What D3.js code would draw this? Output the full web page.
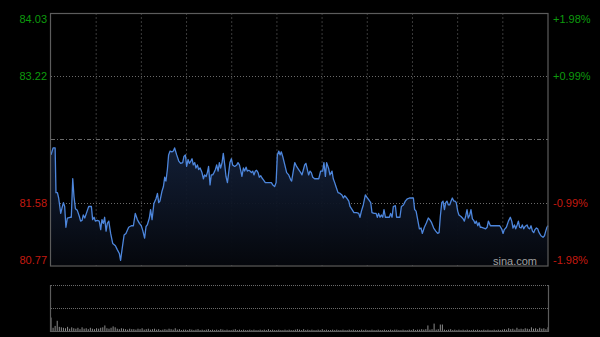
<!DOCTYPE html>
<html>
<head>
<meta charset="utf-8">
<script src="https://cdn.jsdelivr.net/npm/d3@7"></script>
<style>
  html, body { margin: 0; padding: 0; background: #000; }
  svg { display: block; }
</style>
</head>
<body>
<div id="chart"></div>
<script>
var width = 600,
    height = 337;

// minute offsets from the open and the traced price at each one
var minutes = [0, 1, 2, 2.4, 3.1, 3.7, 4.7, 5.3, 6, 6.6, 7.2, 7.9, 9.2, 9.8, 10.5, 11.1, 11.8, 12.7, 13.7, 14.3,
    15, 15.6, 16.3, 17.2, 18.2, 19.5, 20.1, 20.8, 21.4, 22.4, 23.3, 24, 24.6, 25.3, 25.9, 26.6, 27.2, 27.9, 28.8, 29.8,
    31.1, 32, 33, 33.6, 34.3, 35.3, 36.2, 37.5, 38.8, 39.8, 40.7, 41.7, 42.7, 43.6, 44.3, 45.2, 45.9, 46.5, 47.5, 48.1,
    48.8, 49.7, 50.7, 51.4, 52, 52.6, 53.6, 54.3, 54.9, 55.5, 56.2, 56.8, 57.5, 58.4, 59.1, 59.7, 60.7, 61.7, 62.6, 63.6,
    64.2, 64.9, 65.5, 66.2, 66.8, 67.5, 68.1, 68.7, 69.4, 70, 70.7, 71.3, 72, 72.9, 73.6, 74.2, 74.9, 75.5, 76.1, 76.8,
    77.4, 78.1, 78.7, 79.4, 80, 80.7, 81.3, 81.9, 82.6, 83.2, 83.9, 84.5, 85.2, 85.8, 86.4, 87.1, 87.7, 88.7, 89.7, 90.3,
    91, 91.6, 92.2, 92.9, 93.5, 94.2, 94.8, 95.5, 96.1, 96.8, 97.4, 98, 98.7, 99.3, 100, 100.6, 101.3, 101.9, 102.5, 103.5,
    105.1, 106.4, 107.1, 108, 108.7, 109.3, 110, 110.6, 111.2, 111.9, 112.9, 113.8, 114.8, 115.7, 116.2, 117, 117.7, 118.6, 119.6, 120.6,
    121.2, 121.9, 122.5, 123.1, 123.8, 124.4, 125.1, 125.7, 126.4, 127.3, 128.3, 129.3, 130.2, 131.2, 131.8, 132.5, 133.1, 134.1, 134.7, 135.7,
    136.3, 137, 137.6, 138.6, 139.6, 140.5, 141.2, 141.8, 142.5, 143.1, 143.8, 144.4, 145.4, 146.3, 147.6, 148.6, 149.2, 149.9, 150.8, 151.8,
    152.8, 153.4, 154.4, 155, 156, 157, 157.6, 158.2, 158.9, 159.5, 160.2, 160.8, 161.5, 162.7, 163.4, 164, 164.7, 165.3, 166.3, 166.9,
    167.9, 168.5, 169.2, 170.2, 171.1, 172.1, 173.1, 174, 175, 175.6, 176.3, 177.2, 177.9, 178.7, 179.3, 180.3, 181.3, 182.2, 182.9, 183.8,
    184.8, 185.8, 186.7, 187.4, 188, 188.7, 189.3, 190, 190.6, 191.2, 191.9, 192.5, 193.2, 193.8, 194.5, 195.1, 195.7, 196.4, 197, 198,
    199, 199.6, 200.3, 200.9, 201.5, 202.2, 202.8, 203.5, 204.1, 204.8, 205.4, 206.1, 206.7, 207.3, 208, 209, 209.9, 210.6, 211.2, 212.2,
    213.1, 214.4, 215.7, 216.7, 217.6, 218.3, 218.9, 219.9, 220.9, 221.8, 222.5, 223.1, 223.8, 224.4, 225.1, 225.7, 226.3, 227, 227.6, 228.3,
    228.9, 229.9, 230.5, 231.2, 231.8, 232.5, 233.1, 233.7, 234.4, 235, 235.7, 236.6, 237.6, 238.3, 238.9, 239.5, 240];

var prices = [82.20, 82.29, 82.29, 81.71, 81.71, 81.64, 81.44, 81.51, 81.58, 81.53, 81.26, 81.38, 81.39, 81.39, 81.89, 81.66, 81.50, 81.48, 81.40, 81.34,
    81.35, 81.42, 81.38, 81.45, 81.53, 81.53, 81.36, 81.39, 81.34, 81.35, 81.34, 81.23, 81.36, 81.31, 81.39, 81.21, 81.31, 81.34, 81.18, 81.05,
    81.02, 80.97, 80.92, 80.83, 80.97, 81.16, 81.18, 81.26, 81.28, 81.28, 81.44, 81.36, 81.31, 81.28, 81.22, 81.12, 81.27, 81.29, 81.38, 81.49,
    81.36, 81.57, 81.63, 81.70, 81.58, 81.60, 81.73, 81.79, 81.91, 81.86, 82.01, 82.20, 82.25, 82.24, 82.25, 82.29, 82.20, 82.12, 82.09, 82.10,
    82.18, 82.20, 82.05, 82.14, 82.09, 82.12, 82.15, 82.07, 82.10, 82.03, 82.07, 82.01, 82.03, 81.97, 81.89, 81.94, 81.92, 81.97, 82.05, 81.81,
    81.94, 81.94, 81.97, 82.01, 82.07, 81.99, 82.10, 82.03, 82.10, 82.22, 82.07, 81.92, 81.84, 81.97, 82.10, 82.15, 82.07, 82.05, 82.07, 82.10,
    82.07, 82.00, 81.92, 82.03, 81.99, 82.04, 81.99, 82.00, 81.99, 81.97, 81.99, 81.94, 81.99, 82.00, 81.97, 81.91, 81.93, 81.90, 81.88, 81.84,
    81.84, 81.84, 81.81, 81.79, 81.84, 82.20, 82.25, 82.20, 82.24, 82.18, 82.07, 81.97, 81.94, 81.88, 81.86, 81.99, 82.10, 82.05, 82.01, 81.97,
    81.94, 82.01, 82.07, 82.09, 82.01, 81.94, 81.99, 81.97, 81.91, 81.89, 81.89, 81.89, 81.99, 81.99, 82.10, 81.92, 82.10, 82.02, 81.94, 81.99,
    81.89, 81.84, 81.79, 81.71, 81.70, 81.68, 81.64, 81.67, 81.65, 81.63, 81.60, 81.53, 81.49, 81.45, 81.45, 81.44, 81.39, 81.47, 81.55, 81.68,
    81.64, 81.62, 81.58, 81.45, 81.44, 81.44, 81.39, 81.44, 81.39, 81.42, 81.39, 81.49, 81.39, 81.39, 81.39, 81.44, 81.39, 81.53, 81.54, 81.39,
    81.39, 81.39, 81.53, 81.55, 81.60, 81.63, 81.64, 81.64, 81.64, 81.49, 81.47, 81.34, 81.24, 81.25, 81.18, 81.26, 81.32, 81.38, 81.36, 81.32,
    81.25, 81.21, 81.18, 81.19, 81.40, 81.58, 81.60, 81.49, 81.58, 81.60, 81.55, 81.55, 81.60, 81.64, 81.60, 81.60, 81.58, 81.47, 81.42, 81.40,
    81.37, 81.34, 81.41, 81.49, 81.38, 81.42, 81.49, 81.37, 81.35, 81.31, 81.34, 81.28, 81.32, 81.26, 81.26, 81.25, 81.24, 81.26, 81.34, 81.28,
    81.28, 81.28, 81.28, 81.28, 81.24, 81.18, 81.23, 81.26, 81.34, 81.39, 81.34, 81.25, 81.29, 81.24, 81.29, 81.34, 81.26, 81.25, 81.29, 81.24,
    81.27, 81.29, 81.25, 81.24, 81.28, 81.21, 81.19, 81.23, 81.25, 81.24, 81.19, 81.15, 81.13, 81.15, 81.21, 81.26, 81.28];

// per-minute volume (relative units)
var volumes = [30, 8, 12, 23, 10, 9, 8, 7, 10, 6, 9, 7, 6, 8, 5, 9, 6, 7, 5, 8,
    6, 5, 7, 6, 8, 9, 13, 7, 6, 8, 11, 9, 6, 5, 7, 6, 5, 4, 6, 5,
    5, 4, 6, 5, 7, 4, 5, 6, 4, 5, 6, 4, 5, 3, 4, 5, 4, 6, 5, 4,
    7, 4, 5, 3, 4, 4, 3, 5, 4, 3, 4, 5, 3, 4, 3, 4, 5, 3, 4, 3,
    4, 3, 5, 4, 3, 4, 3, 3, 4, 5, 3, 4, 3, 4, 3, 3, 4, 3, 4, 3,
    3, 4, 3, 4, 3, 5, 3, 4, 3, 3, 4, 3, 3, 4, 3, 4, 3, 3, 4, 5,
    4, 3, 5, 3, 4, 3, 4, 3, 3, 4, 3, 5, 3, 4, 3, 3, 4, 3, 4, 3,
    3, 4, 3, 3, 4, 3, 4, 3, 3, 3, 4, 3, 4, 3, 3, 4, 3, 3, 4, 3,
    3, 4, 3, 3, 4, 3, 4, 4, 3, 3, 4, 3, 3, 4, 3, 5, 3, 4, 4, 5,
    4, 5, 13, 4, 5, 17, 4, 5, 15, 15, 4, 3, 4, 5, 3, 4, 3, 4, 3, 4,
    3, 4, 3, 3, 4, 3, 4, 3, 3, 4, 3, 4, 3, 3, 4, 3, 4, 3, 4, 5,
    4, 7, 5, 6, 4, 8, 5, 6, 5, 7, 6, 5, 9, 6, 7, 5, 8, 6, 7, 5, 9];

var priceTicks = [84.03, 83.22, 81.58, 80.77];
var pctTicks = ["+1.98%", "+0.99%", "-0.99%", "-1.98%"];
var prevClose = 82.40;

var data = minutes.map(function (m, i) {
    return { t: m, p: prices[i] };
});

var svg = d3.select("#chart")
    .append("svg")
    .attr("width", width)
    .attr("height", height)
    .style("background", "#000");

var x = d3.scaleLinear().domain([0, 240]).range([51, 548]);
var y = d3.scaleLinear().domain([80.77, 84.03]).range([265, 14]);
var yv = d3.scaleLinear().domain([0, 100]).range([331.5, 285]);

// gradient under the line
var defs = svg.append("defs");
var grad = defs.append("linearGradient")
    .attr("id", "fill")
    .attr("x1", 0).attr("y1", 0).attr("x2", 0).attr("y2", 1);
grad.append("stop").attr("offset", "0%").attr("stop-color", "#14213a").attr("stop-opacity", 0.9);
grad.append("stop").attr("offset", "100%").attr("stop-color", "#05070c").attr("stop-opacity", 1);

// vertical grid
var cols = d3.range(1, 11);
svg.append("g")
    .selectAll("line")
    .data(cols)
    .enter().append("line")
    .attr("x1", function (d) { return 51 + d * 497 / 11; })
    .attr("x2", function (d) { return 51 + d * 497 / 11; })
    .attr("y1", 13)
    .attr("y2", 266)
    .attr("stroke", "#3a3a3a")
    .attr("stroke-width", 1)
    .attr("stroke-dasharray", "2,2");

// horizontal grid (inner ticks)
svg.append("g")
    .selectAll("line")
    .data([priceTicks[1], priceTicks[2]])
    .enter().append("line")
    .attr("x1", 51)
    .attr("x2", 548)
    .attr("y1", function (d) { return Math.round(y(d)) + 0.5; })
    .attr("y2", function (d) { return Math.round(y(d)) + 0.5; })
    .attr("stroke", "#6a6a6a")
    .attr("stroke-dasharray", "1,2");

// previous close
svg.append("line")
    .attr("x1", 51)
    .attr("x2", 548)
    .attr("y1", Math.round(y(prevClose)) + 0.5)
    .attr("y2", Math.round(y(prevClose)) + 0.5)
    .attr("stroke", "#6a6a6a")
    .attr("stroke-dasharray", "4,2,1,2");

// area + line
var area = d3.area()
    .x(function (d) { return x(d.t); })
    .y0(265)
    .y1(function (d) { return y(d.p); });

var line = d3.line()
    .x(function (d) { return x(d.t); })
    .y(function (d) { return y(d.p); });

svg.append("path")
    .datum(data)
    .attr("d", area)
    .attr("fill", "url(#fill)");

svg.append("path")
    .datum(data)
    .attr("d", line)
    .attr("fill", "none")
    .attr("stroke", "#4d86dc")
    .attr("stroke-width", 1.3)
    .attr("stroke-linejoin", "round");

// main frame
svg.append("rect")
    .attr("x", 50.5)
    .attr("y", 13.5)
    .attr("width", 497.5)
    .attr("height", 252.5)
    .attr("fill", "none")
    .attr("stroke", "#5c5c5c")
    .attr("stroke-width", 1.2);

// price labels
svg.append("g")
    .selectAll("text")
    .data(priceTicks)
    .enter().append("text")
    .attr("x", 47)
    .attr("y", function (d, i) {
        if (i == 0) return 23;
        if (i == 3) return 264;
        return y(d) + 4;
    })
    .attr("text-anchor", "end")
    .attr("font-family", "Liberation Sans, Arial, sans-serif")
    .attr("font-size", 11)
    .attr("fill", function (d) { return d > prevClose ? "#0d9a0d" : "#c41a10"; })
    .text(function (d) { return d.toFixed(2); });

svg.append("g")
    .selectAll("text")
    .data(pctTicks)
    .enter().append("text")
    .attr("x", 553)
    .attr("y", function (d, i) {
        if (i == 0) return 23;
        if (i == 3) return 264;
        return y(priceTicks[i]) + 4;
    })
    .attr("font-family", "Liberation Sans, Arial, sans-serif")
    .attr("font-size", 11)
    .attr("fill", function (d) { return d.charAt(0) == "+" ? "#0d9a0d" : "#c41a10"; })
    .text(function (d) { return d; });

// watermark
svg.append("text")
    .attr("x", 537)
    .attr("y", 265)
    .attr("text-anchor", "end")
    .attr("font-family", "Liberation Sans, Arial, sans-serif")
    .attr("font-size", 11)
    .attr("fill", "#a0a0a0")
    .text("sina.com");

// volume panel
var vol = svg.append("g");

vol.append("line")
    .attr("x1", 51).attr("x2", 548)
    .attr("y1", 285.5).attr("y2", 285.5)
    .attr("stroke", "#6a6a6a")
    .attr("stroke-dasharray", "1,1");

vol.append("line")
    .attr("x1", 51).attr("x2", 548)
    .attr("y1", 308.5).attr("y2", 308.5)
    .attr("stroke", "#6a6a6a")
    .attr("stroke-dasharray", "1,1");

vol.selectAll("rect.bar")
    .data(volumes)
    .enter().append("rect")
    .attr("class", "bar")
    .attr("x", function (d, i) { return x(i) - 0.5; })
    .attr("width", 1)
    .attr("y", function (d) { return yv(d); })
    .attr("height", function (d) { return 331.5 - yv(d); })
    .attr("fill", "#8a8a8a");

vol.append("path")
    .attr("d", "M50.5,285V331.5H548.5V285")
    .attr("fill", "none")
    .attr("stroke", "#5c5c5c")
    .attr("stroke-width", 1.2);
</script>
</body>
</html>
